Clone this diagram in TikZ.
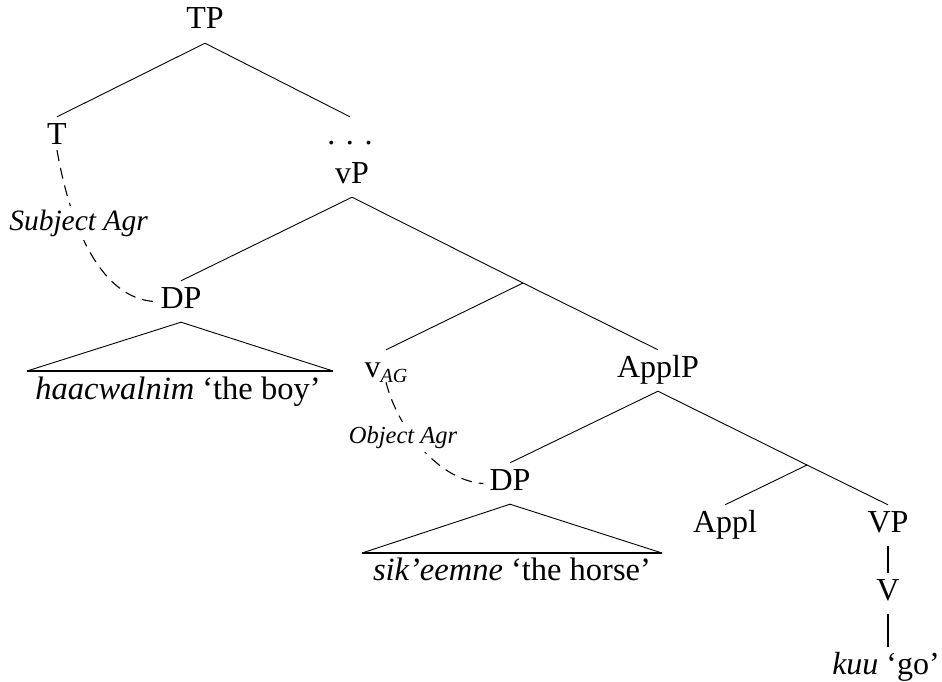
\documentclass[tikz,border=0pt]{standalone}
\usepackage{fontspec}
\setmainfont{Liberation Serif}
\begin{document}
\begin{tikzpicture}[x=1pt,y=1pt,
  lab/.style={font=\fontsize{32}{38}\selectfont, text height=21pt, text depth=8pt, inner xsep=6pt, inner ysep=6pt, anchor=base},
  txt/.style={font=\fontsize{32.5}{38}\selectfont, inner sep=0pt, anchor=base},
  branch/.style={line width=0.9pt},
  stem/.style={line width=1.8pt},
  basel/.style={line width=2pt},
  agr/.style={line width=1.1pt, dash pattern=on 11pt off 7pt},
  agrlab/.style={font=\itshape, fill=white, inner sep=4pt, anchor=base}]
\useasboundingbox (0,0) rectangle (942,-682);
% nodes
\node[lab] (TP) at (205,-29) {TP};
\node[lab] (T) at (57,-144) {T};
\node[lab] (dots) at (350,-144) {. . .};
\node[lab] (vP) at (352,-183) {vP};
\node[lab] (DP1) at (181,-308) {DP};
\node[lab] (vAG) at (386,-377) {v\raisebox{-5pt}{\fontsize{20}{24}\selectfont\itshape AG}};
\node[lab] (ApplP) at (658,-377) {ApplP};
\node[lab] (DP2) at (510,-490) {DP};
\node[lab] (Appl) at (725,-532) {Appl};
\node[lab] (VP) at (888,-532) {VP};
\node[lab] (V) at (888,-600) {V};
\node[lab] (kuu) at (886,-674) {\textit{kuu} ‘go’};
\coordinate (vbar) at (523,-283);
\coordinate (applbar) at (807,-465);
% branches
\draw[branch] (TP.south) -- (T.north);
\draw[branch] (TP.south) -- (dots.north);
\draw[branch] (vP.south) -- (DP1.north);
\draw[branch] (vP.south) -- (vbar) -- (ApplP.north);
\draw[branch] (vbar) -- (vAG.north);
\draw[branch] (ApplP.south) -- (DP2.north);
\draw[branch] (ApplP.south) -- (applbar) -- (VP.north);
\draw[branch] (applbar) -- (Appl.north);
\draw[stem] (VP.south) -- (V.north);
\draw[stem] (V.south) -- (V.south |- kuu.north);
% triangles
\coordinate (t1l) at (27,-371);
\coordinate (t1r) at (333,-371);
\draw[branch, line join=miter] (t1l) -- (DP1.south) -- (t1r);
\draw[basel] (t1l) -- (t1r);
\node[txt] (haac) at (178,-399) {\textit{haacwalnim} ‘the boy’};
\coordinate (t2l) at (362,-553);
\coordinate (t2r) at (662,-553);
\draw[branch, line join=miter] (t2l) -- (DP2.south) -- (t2r);
\draw[basel] (t2l) -- (t2r);
\node[txt] (sik) at (512,-580) {\textit{sik’eemne} ‘the horse’};
% agreement curves
\draw[agr] ([yshift=8pt]T.south) .. controls (70,-225) and (100,-298) .. (DP1.west);
\node[agrlab, font=\fontsize{29.5}{34}\selectfont\itshape] (SA) at (78.5,-230) {Subject Agr};
\draw[agr] ([yshift=9pt]vAG.south) .. controls (398,-430) and (440,-481) .. (DP2.west);
\node[agrlab, font=\fontsize{24.5}{29}\selectfont\itshape] (OA) at (403,-443) {Object Agr};
\end{tikzpicture}
\end{document}
